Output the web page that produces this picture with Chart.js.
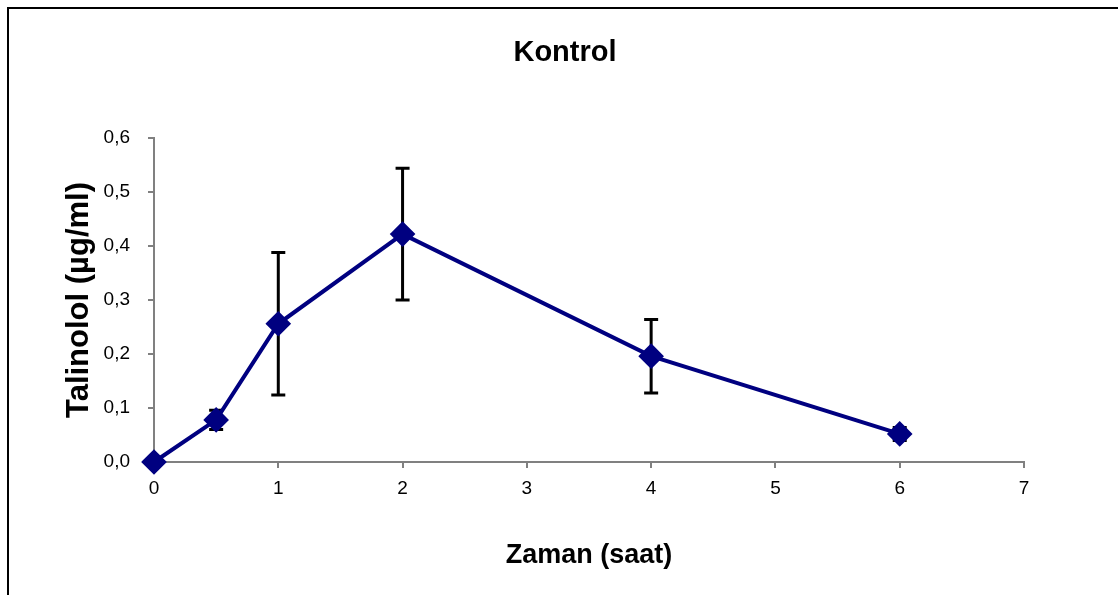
<!DOCTYPE html>
<html>
<head>
<meta charset="utf-8">
<script src="https://cdn.jsdelivr.net/npm/chart.js@4/dist/chart.umd.min.js"></script>
<style>
  html, body { margin: 0; padding: 0; background: #fff; }
  canvas { display: block; }
</style>
</head>
<body>
<canvas id="chart" width="1118" height="595"></canvas>
<script>
// Talinolol plasma levels, control group
const times = [0, 0.5, 1, 2, 4, 6];
const means = [0, 0.078, 0.256, 0.422, 0.196, 0.052];
const sds = [0, 0.018, 0.132, 0.122, 0.068, 0.012];

const chartTitle = "Kontrol";
const xTitle = "Zaman (saat)";
const yTitle = "Talinolol (µg/ml)";

const FONT = "'Liberation Sans', Arial, sans-serif";
const AXIS_GREY = "#808080";

// frame round the chart area + title text
const framePlugin = {
  id: "frame",
  beforeDraw(chart) {
    const ctx = chart.ctx;
    ctx.save();
    ctx.fillStyle = "#fff";
    ctx.fillRect(0, 0, chart.width, chart.height);
    ctx.strokeStyle = "#000";
    ctx.lineWidth = 2;
    ctx.strokeRect(8, 8, chart.width + 20, chart.height + 20);
    ctx.fillStyle = "#000";
    ctx.font = "bold 29px " + FONT;
    ctx.textAlign = "center";
    ctx.textBaseline = "middle";
    ctx.fillText(chartTitle, chart.width / 2 + 6, 53);
    ctx.restore();
  },
};

// error bars, drawn under the markers
const errorBarPlugin = {
  id: "errorBars",
  beforeDatasetsDraw(chart) {
    const { ctx, scales } = chart;
    ctx.save();
    ctx.strokeStyle = "#000";
    ctx.lineWidth = 3;
    times.forEach((t, i) => {
      if (!sds[i]) return;
      const x = scales.x.getPixelForValue(t);
      const yTop = scales.y.getPixelForValue(means[i] + sds[i]);
      const yBot = scales.y.getPixelForValue(means[i] - sds[i]);
      ctx.beginPath();
      ctx.moveTo(x, yTop);
      ctx.lineTo(x, yBot);
      ctx.moveTo(x - 7, yTop);
      ctx.lineTo(x + 7, yTop);
      ctx.moveTo(x - 7, yBot);
      ctx.lineTo(x + 7, yBot);
      ctx.stroke();
    });
    ctx.restore();
  },
};

new Chart(document.getElementById("chart"), {
  type: "scatter",
  data: {
    datasets: [
      {
        data: times.map((t, i) => ({ x: t, y: means[i] })),
        showLine: true,
        clip: false,
        borderColor: "#000080",
        backgroundColor: "#000080",
        borderWidth: 4,
        pointStyle: "rectRot",
        pointRadius: 10,
        pointHoverRadius: 10,
      },
    ],
  },
  options: {
    responsive: false,
    animation: false,
    layout: { padding: { top: 138, right: 94, left: 0, bottom: 0 } },
    plugins: {
      legend: { display: false },
      tooltip: { enabled: false },
    },
    scales: {
      x: {
        type: "linear",
        min: 0,
        max: 7,
        afterFit: (scale) => { scale.height = 133; },
        grid: {
          drawOnChartArea: false,
          drawTicks: true,
          tickLength: 6,
          color: AXIS_GREY,
          lineWidth: 2,
        },
        border: { color: AXIS_GREY, width: 2 },
        ticks: {
          stepSize: 1,
          padding: 9,
          color: "#000",
          font: { family: FONT, size: 19 },
        },
        title: {
          display: true,
          text: xTitle,
          color: "#000",
          font: { family: FONT, size: 27, weight: "bold", lineHeight: 1.2 },
          padding: { top: 0, bottom: 23 },
        },
      },
      y: {
        min: 0,
        max: 0.6,
        afterFit: (scale) => { scale.width = 154; },
        grid: {
          drawOnChartArea: false,
          drawTicks: true,
          tickLength: 6,
          color: AXIS_GREY,
          lineWidth: 2,
        },
        border: { color: AXIS_GREY, width: 2 },
        ticks: {
          stepSize: 0.1,
          padding: 18,
          color: "#000",
          font: { family: FONT, size: 19 },
          callback: (v) => v.toFixed(1).replace(".", ","),
        },
        title: {
          display: true,
          text: yTitle,
          color: "#000",
          font: { family: FONT, size: 31, weight: "bold", lineHeight: 1.2 },
          padding: { top: 61, bottom: 0 },
        },
      },
    },
  },
  plugins: [framePlugin, errorBarPlugin],
});
</script>
</body>
</html>
